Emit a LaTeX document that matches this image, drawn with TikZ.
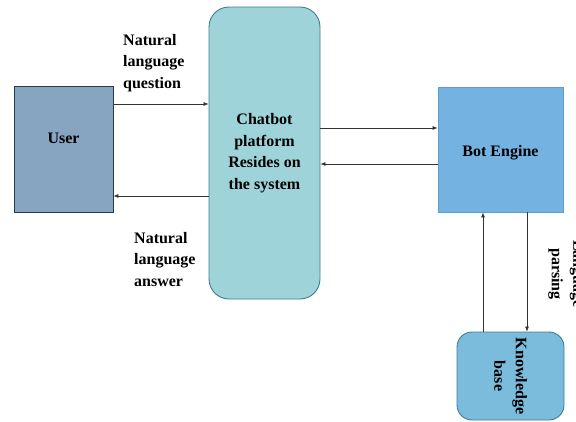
\documentclass[tikz,border=0pt]{standalone}
\usepackage{fontspec}
\setmainfont{Liberation Serif}
\usetikzlibrary{arrows.meta,calc}
\definecolor{userfill}{HTML}{87A5C1}
\definecolor{userdraw}{HTML}{2B3A4A}
\definecolor{chatfill}{HTML}{9ED4D9}
\definecolor{chatdraw}{HTML}{3C7E8C}
\definecolor{botfill}{HTML}{74B3E1}
\definecolor{botdraw}{HTML}{5E9ECB}
\definecolor{kbfill}{HTML}{7BBCDC}
\definecolor{kbdraw}{HTML}{3D7C98}
\definecolor{linecol}{HTML}{333333}
\begin{document}
\begin{tikzpicture}[x=1pt,y=-1pt,
  txt/.style={font=\bfseries\fontsize{16}{21.5}\selectfont},
  box/.style={draw,line width=0.9pt,inner sep=0pt,align=center,txt},
  lbl/.style={txt,align=left,inner sep=0pt},
  conn/.style={-{Latex[length=5pt,width=4pt]},line width=0.6pt,draw=linecol}]
\useasboundingbox (0,0) rectangle (576,421);
\node[box,fill=userfill,draw=userdraw,minimum width=99pt,minimum height=126pt,
  label={[txt,yshift=11pt]center:User}] (user) at (63.5,149.5) {};
\node[box,fill=chatfill,draw=chatdraw,rounded corners=20pt,minimum width=111pt,minimum height=292pt] (chat) at (264.5,153)
  {Chatbot\\platform\\Resides on\\the system};
\node[box,fill=botfill,draw=botdraw,minimum width=125pt,minimum height=125pt,
  label={[txt,yshift=-3pt]center:Bot Engine}] (bot) at (500.5,149.5) {};
\node[box,fill=kbfill,draw=kbdraw,rounded corners=15pt,minimum width=107pt,minimum height=88pt,
  label={[txt,rotate=-90,align=center]center:Knowledge\\base}] (kb) at (510.5,376) {};
\draw[conn] (user.east |- 0,104) -- (chat.west |- 0,104);
\draw[conn] (chat.west |- 0,196) -- (user.east |- 0,196);
\draw[conn] (chat.east |- 0,128) -- (bot.west |- 0,128);
\draw[conn] (bot.west |- 0,164) -- (chat.east |- 0,164);
\draw[conn] (bot.south -| 527,0) -- (kb.north -| 527,0)
  node[midway,xshift=39pt,yshift=-2pt,rotate=-90,lbl,align=center] (lp) {Language\\parsing};
\draw[conn] (kb.north -| 483,0) -- (bot.south -| 483,0);
\node[lbl,anchor=north west] (q) at (123,34) {Natural\\language\\question};
\node[lbl,anchor=north west] (a) at (134,232) {Natural\\language\\answer};
\end{tikzpicture}
\end{document}
